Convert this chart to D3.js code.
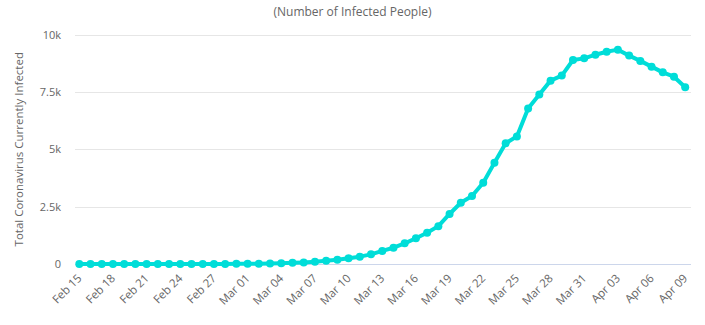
<!DOCTYPE html>
<html>
<head>
<meta charset="utf-8">
<script src="https://cdn.jsdelivr.net/npm/d3@7"></script>
<style>
  body { margin: 0; background: #fff; }
  svg { display: block; font-family: "Open Sans", "Segoe UI", Arial, sans-serif; }
</style>
</head>
<body>
<div id="chart"></div>
<script>
// Active cases line chart

const dates = [
  'Feb 15','Feb 16','Feb 17','Feb 18','Feb 19','Feb 20','Feb 21','Feb 22','Feb 23','Feb 24',
  'Feb 25','Feb 26','Feb 27','Feb 28','Feb 29','Mar 01','Mar 02','Mar 03','Mar 04','Mar 05',
  'Mar 06','Mar 07','Mar 08','Mar 09','Mar 10','Mar 11','Mar 12','Mar 13','Mar 14','Mar 15',
  'Mar 16','Mar 17','Mar 18','Mar 19','Mar 20','Mar 21','Mar 22','Mar 23','Mar 24','Mar 25',
  'Mar 26','Mar 27','Mar 28','Mar 29','Mar 30','Mar 31','Apr 01','Apr 02','Apr 03','Apr 04',
  'Apr 05','Apr 06','Apr 07','Apr 08','Apr 09'
];

const activeCases = [
  0, 0, 0, 0, 0, 0, 0, 0, 0, 0,
  2, 3, 3, 5, 9, 10, 14, 18, 30, 50,
  70, 100, 145, 190, 250, 320, 420, 570, 710, 900,
  1120, 1360, 1650, 2180, 2670, 2960, 3540, 4410, 5260, 5560,
  6780, 7390, 7990, 8210, 8890, 8960, 9120, 9250, 9340, 9080,
  8850, 8600, 8350, 8160, 7700
];

const yTicks = [0, 2500, 5000, 7500, 10000];
const yTickLabels = ['0', '2.5k', '5k', '7.5k', '10k'];
const xTickEvery = 3;

function createLineChart() {
  const width = 705, height = 325;
  const plot = {left: 75, right: 691, top: 34.5, bottom: 264};
  const lineColor = '#00ddd8';

  const svg = d3.select('#chart').append('svg')
    .attr('width', width)
    .attr('height', height);

  const x = d3.scalePoint()
    .domain(dates)
    .range([79.3, 685.2]);

  const y = d3.scaleLinear()
    .domain([0, 10000])
    .range([plot.bottom, plot.top]);

  // Title
  svg.append('text')
    .attr('x', width / 2)
    .attr('y', 16)
    .attr('text-anchor', 'middle')
    .style('font-size', '12px')
    .style('fill', '#666')
    .text('(Number of Infected People)');

  // Horizontal grid lines
  svg.append('g')
    .selectAll('line')
    .data(yTicks.filter(d => d > 0))
    .enter()
    .append('line')
    .attr('x1', plot.left)
    .attr('x2', plot.right)
    .attr('y1', d => Math.round(y(d)) + 0.5)
    .attr('y2', d => Math.round(y(d)) + 0.5)
    .attr('stroke', '#e6e6e6')
    .attr('stroke-width', 1);

  // Y axis labels
  svg.append('g')
    .selectAll('text')
    .data(yTicks)
    .enter()
    .append('text')
    .attr('x', 61)
    .attr('y', d => y(d) + 4)
    .attr('text-anchor', 'end')
    .style('font-size', '11px')
    .style('fill', '#666')
    .text((d, i) => yTickLabels[i]);

  // Y axis title
  svg.append('text')
    .attr('transform', `translate(23,${(plot.top + plot.bottom) / 2}) rotate(-90)`)
    .attr('text-anchor', 'middle')
    .style('font-size', '11.5px')
    .style('fill', '#666')
    .text('Total Coronavirus Currently Infected');

  // X axis line
  svg.append('line')
    .attr('x1', plot.left)
    .attr('x2', plot.right)
    .attr('y1', plot.bottom + 0.5)
    .attr('y2', plot.bottom + 0.5)
    .attr('stroke', '#ccd6eb')
    .attr('stroke-width', 1);

  // X axis labels, rotated
  svg.append('g')
    .selectAll('text')
    .data(dates.filter((d, i) => i % xTickEvery === 0))
    .enter()
    .append('text')
    .attr('transform', d => `translate(${x(d) + 3},${plot.bottom + 15}) rotate(-45)`)
    .attr('text-anchor', 'end')
    .style('font-size', '11.5px')
    .style('fill', '#666')
    .text(d => d);

  // Line
  const line = d3.line()
    .x((d, i) => x(dates[i]))
    .y(d => y(d));

  svg.append('path')
    .datum(activeCases)
    .attr('d', line)
    .attr('fill', 'none')
    .attr('stroke', lineColor)
    .attr('stroke-width', 4)
    .attr('stroke-linejoin', 'round')
    .attr('stroke-linecap', 'round');

  // Point markers
  svg.append('g')
    .selectAll('circle')
    .data(activeCases)
    .enter()
    .append('circle')
    .attr('cx', (d, i) => x(dates[i]))
    .attr('cy', d => y(d))
    .attr('r', 4)
    .attr('fill', lineColor);
}

createLineChart();
</script>
</body>
</html>
